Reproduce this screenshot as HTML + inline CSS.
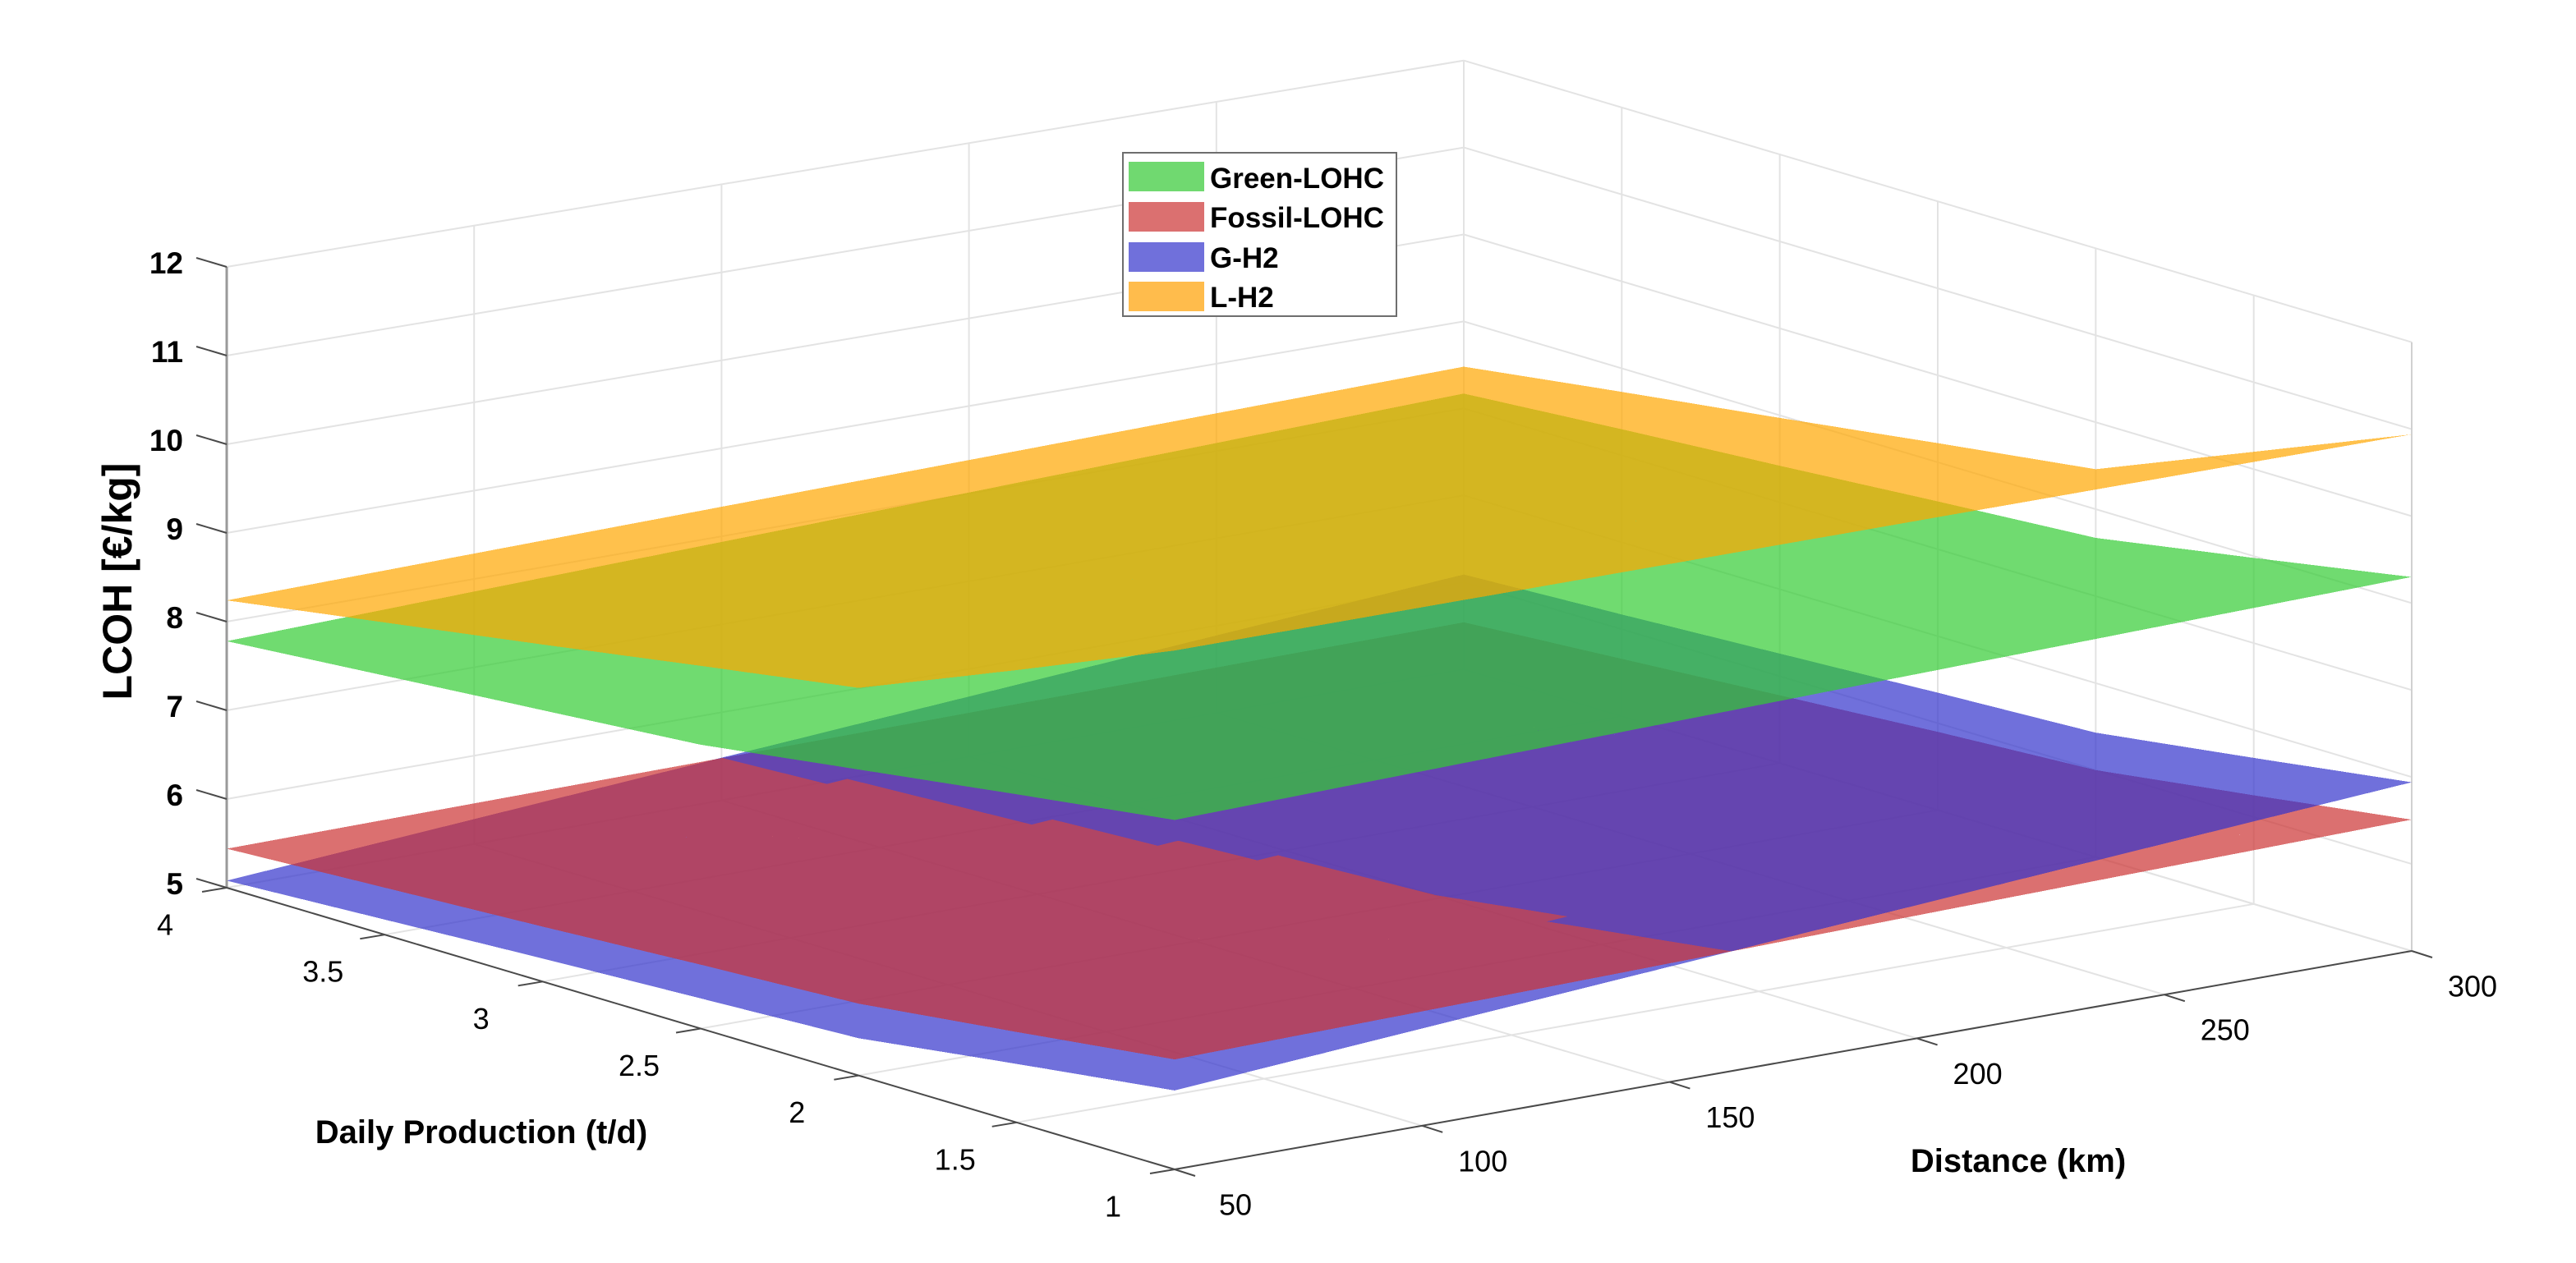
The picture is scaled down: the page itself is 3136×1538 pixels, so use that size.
<!DOCTYPE html>
<html><head><meta charset="utf-8"><title>LCOH surface chart</title>
<style>
html,body{margin:0;padding:0;background:#fff;}
svg{display:block;}
text{font-family:"Liberation Sans",Arial,sans-serif;fill:#000;}
</style></head>
<body>
<svg id="chart" xmlns="http://www.w3.org/2000/svg" width="3136" height="1538" viewBox="0 0 3136 1538">
  <rect x="0" y="0" width="3136" height="1538" fill="#ffffff"/>
  <g id="grid"></g>
  <g id="surfaces" shape-rendering="crispEdges"></g>
  <g id="axes"></g>
  <text transform="translate(160,708) rotate(-90)" text-anchor="middle" font-size="50" font-weight="bold">LCOH [€/kg]</text>
  <text x="586" y="1392" text-anchor="middle" font-size="40" font-weight="bold">Daily Production (t/d)</text>
  <text x="2457" y="1427" text-anchor="middle" font-size="40" font-weight="bold">Distance (km)</text>
  <g>
    <rect x="1367" y="186" width="333" height="199" fill="#ffffff" stroke="#6e6e6e" stroke-width="2"/>
    <g>
      <rect x="1374" y="197" width="92" height="36" fill="#70d970"/>
      <text x="1473" y="229" font-size="35" font-weight="bold">Green-LOHC</text>
    </g>
    <g>
      <rect x="1374" y="246" width="92" height="36" fill="#db7070"/>
      <text x="1473" y="277" font-size="35" font-weight="bold">Fossil-LOHC</text>
    </g>
    <g>
      <rect x="1374" y="295" width="92" height="36" fill="#7070db"/>
      <text x="1473" y="326" font-size="35" font-weight="bold">G-H2</text>
    </g>
    <g>
      <rect x="1374" y="343" width="92" height="36" fill="#ffbc4c"/>
      <text x="1473" y="374" font-size="35" font-weight="bold">L-H2</text>
    </g>
  </g>
</svg>
<script>
// ---- data ----
const xs = [50, 300];
const ys = [1, 1.5, 2, 2.5, 3, 3.5, 4];
const greenLOHC_x50  = [8.94, 8.70, 8.45, 8.20, 8.06, 7.92, 7.78];
const greenLOHC_x300 = [9.30, 8.98, 8.67, 8.55, 8.42, 8.30, 8.17];
const fossilLOHC_x50  = [6.24, 6.02, 5.81, 5.72, 5.62, 5.53, 5.44];
const fossilLOHC_x300 = [6.51, 6.25, 6.00, 5.90, 5.78, 5.66, 5.54];
const gH2_x50  = [5.89, 5.66, 5.42, 5.34, 5.26, 5.17, 5.08];
const gH2_x300 = [6.94, 6.68, 6.43, 6.35, 6.26, 6.17, 6.09];
const lH2_x50  = [10.85, 10.10, 9.37, 9.09, 8.80, 8.52, 8.24];
const lH2_x300 = [10.94, 10.20, 9.46, 9.22, 8.97, 8.73, 8.48];
const xTicks = [50, 100, 150, 200, 250, 300];
const xTickLabels = ["50", "100", "150", "200", "250", "300"];
const yTicks = [1, 1.5, 2, 2.5, 3, 3.5, 4];
const yTickLabels = ["1", "1.5", "2", "2.5", "3", "3.5", "4"];
const zTicks = [5, 6, 7, 8, 9, 10, 11, 12];
const zTickLabels = ["5", "6", "7", "8", "9", "10", "11", "12"];

// ---- axis functions (projection) ----
const XMIN = 50, XMAX = 300, YMIN = 1, YMAX = 4, ZMIN = 5, ZMAX = 12;
const A = [276, 1081], B = [1430, 1424], C = [2936, 1158];
function proj(x, y, z) {
  const u = (x - XMIN) / (XMAX - XMIN);
  const v = (YMAX - y) / (YMAX - YMIN);
  const zs = 108 - 2.1 * u;
  return [A[0] + u * (C[0] - B[0]) + v * (B[0] - A[0]),
          A[1] + u * (C[1] - B[1]) + v * (B[1] - A[1]) - (z - ZMIN) * zs];
}
const NS = "http://www.w3.org/2000/svg";
function mk(tag, attrs, parent) {
  const el = document.createElementNS(NS, tag);
  for (const k in attrs) el.setAttribute(k, attrs[k]);
  parent.appendChild(el);
  return el;
}
const grid = document.getElementById('grid');
const axes = document.getElementById('axes');
function line(p, q, stroke, w, parent, name) {
  const l = mk('line', {x1: p[0].toFixed(1), y1: p[1].toFixed(1), x2: q[0].toFixed(1), y2: q[1].toFixed(1), stroke: stroke, 'stroke-width': w}, parent);
  
  
  return l;
}
const GC = '#e3e3e3';
zTicks.forEach(z => { line(proj(XMIN, YMAX, z), proj(XMAX, YMAX, z), GC, 2, grid, 'gridline-back-z'); });
xTicks.forEach(x => { line(proj(x, YMAX, ZMIN), proj(x, YMAX, ZMAX), GC, 2, grid, 'gridline-back-x'); });
zTicks.forEach(z => { line(proj(XMAX, YMAX, z), proj(XMAX, YMIN, z), GC, 2, grid, 'gridline-side-z'); });
yTicks.forEach(y => { line(proj(XMAX, y, ZMIN), proj(XMAX, y, ZMAX), GC, 2, grid, 'gridline-side-y'); });
xTicks.forEach(x => { line(proj(x, YMIN, ZMIN), proj(x, YMAX, ZMIN), GC, 2, grid, 'gridline-floor-x'); });
yTicks.forEach(y => { line(proj(XMIN, y, ZMIN), proj(XMAX, y, ZMIN), GC, 2, grid, 'gridline-floor-y'); });
line(proj(XMAX, YMIN, ZMIN), proj(XMAX, YMIN, ZMAX), '#d0d0d0', 2, grid, 'box-edge-right');

// ---- surfaces ----
const green = {name: 'green-lohc', a: greenLOHC_x50, b: greenLOHC_x300, col: 'rgb(51,204,51)'};
const fossil = {name: 'fossil-lohc', a: fossilLOHC_x50, b: fossilLOHC_x300, col: 'rgb(204,51,51)'};
const gh2 = {name: 'g-h2', a: gH2_x50, b: gH2_x300, col: 'rgb(51,51,204)'};
const lh2 = {name: 'l-h2', a: lH2_x50, b: lH2_x300, col: 'rgb(255,166,0)'};
const series = [green, fossil, gh2, lh2];
function zAt(s, x, y) {
  let j = 0;
  while (j < ys.length - 2 && y > ys[j + 1]) j++;
  const ty = (y - ys[j]) / (ys[j + 1] - ys[j]);
  const tx = (x - xs[0]) / (xs[1] - xs[0]);
  const za = s.a[j] + ty * (s.a[j + 1] - s.a[j]);
  const zb = s.b[j] + ty * (s.b[j + 1] - s.b[j]);
  return za + tx * (zb - za);
}
const quads = [];
const NX = 60, NYC = 6;
series.forEach(s => {
  for (let j = 0; j < ys.length - 1; j++) {
    for (let k = 0; k < NYC; k++) {
      const y0 = ys[j] + (ys[j + 1] - ys[j]) * k / NYC;
      const y1 = ys[j] + (ys[j + 1] - ys[j]) * (k + 1) / NYC;
      for (let i = 0; i < NX; i++) {
        const x0 = xs[0] + (xs[1] - xs[0]) * i / NX;
        const x1 = xs[0] + (xs[1] - xs[0]) * (i + 1) / NX;
        const c = [[x0, y0], [x1, y0], [x1, y1], [x0, y1]].map(p => [p[0], p[1], zAt(s, p[0], p[1])]);
        const xm = (x0 + x1) / 2, ym = (y0 + y1) / 2;
        let layer;
        if (s === fossil || s === gh2) {
          const redTop = zAt(fossil, xm, ym) > zAt(gh2, xm, ym);
          if (redTop) layer = (s === gh2) ? 0 : 1;
          else layer = (s === fossil) ? 2 : 3;
        } else if (s === green) layer = 4;
        else layer = 5;
        quads.push({s: s, c: c, layer: layer});
      }
    }
  }
});
quads.sort((p, q) => p.layer - q.layer);
const sg = document.getElementById('surfaces');
quads.forEach(q => {
  const pts = q.c.map(p => proj(p[0], p[1], p[2]).map(v => v.toFixed(1)).join(',')).join(' ');
  const poly = mk('polygon', {points: pts, fill: q.s.col, 'fill-opacity': 0.7}, sg);
  
  
});

// ---- axes ----
const AX = '#4a4a4a';
line(proj(XMIN, YMAX, ZMIN), proj(XMIN, YMAX, ZMAX), '#9a9a9a', 3, axes, 'z-axis-line');
line(proj(XMIN, YMAX, ZMIN), proj(XMIN, YMIN, ZMIN), AX, 2, axes, 'y-axis-line');
line(proj(XMIN, YMIN, ZMIN), proj(XMAX, YMIN, ZMIN), AX, 2, axes, 'x-axis-line');
zTicks.forEach((z, i) => {
  const p = proj(XMIN, YMAX, z);
  line(p, [p[0] - 37, p[1] - 11], AX, 2, axes, 'z-tick');
  const t = mk('text', {x: 223, y: (p[1] - 2).toFixed(1), 'text-anchor': 'end', 'font-size': 37, 'font-weight': 'bold', 'dominant-baseline': 'middle'}, axes);
  
  
  t.textContent = zTickLabels[i];
});
yTicks.forEach((y, i) => {
  const p = proj(XMIN, y, ZMIN);
  line(p, [p[0] - 30, p[1] + 5], AX, 2, axes, 'y-tick');
  const t = mk('text', {x: (p[0] - 75).toFixed(1), y: (p[1] + 48).toFixed(1), 'text-anchor': 'middle', 'font-size': 36, 'dominant-baseline': 'middle'}, axes);
  
  
  t.textContent = yTickLabels[i];
});
xTicks.forEach((x, i) => {
  const p = proj(x, YMIN, ZMIN);
  line(p, [p[0] + 25, p[1] + 8], AX, 2, axes, 'x-tick');
  const t = mk('text', {x: (p[0] + 74).toFixed(1), y: (p[1] + 46).toFixed(1), 'text-anchor': 'middle', 'font-size': 36, 'dominant-baseline': 'middle'}, axes);
  
  
  t.textContent = xTickLabels[i];
});
</script>
</body></html>
